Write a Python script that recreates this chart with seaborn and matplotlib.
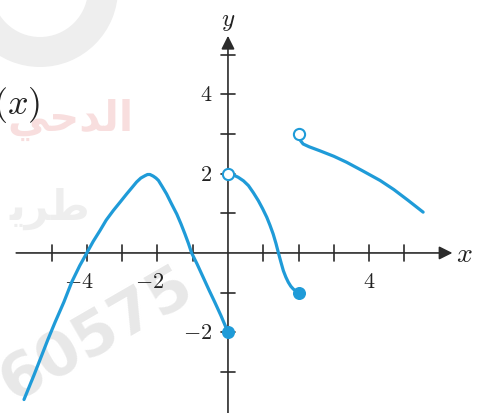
import numpy as np
import pandas as pd
import matplotlib
matplotlib.use("Agg")
import matplotlib.pyplot as plt
from matplotlib.patches import Wedge
from matplotlib.transforms import IdentityTransform
import seaborn as sns

# Piecewise function f(x), sampled points of each branch
left_x = [-5.78, -5.5, -5.28, -5.1, -4.9, -4.65, -4.43, -4.2, -4.0, -3.82, -3.63, -3.45,
          -3.25, -3.05, -2.87, -2.72, -2.59, -2.47, -2.35, -2.28, -2.21, -2.12, -2.04,
          -1.97, -1.86, -1.74, -1.6, -1.45, -1.33, -1.22, -1.12, -1.03, -0.88, -0.70,
          -0.53, -0.37, -0.2, 0.0]
left_y = [-3.70, -3.09, -2.59, -2.18, -1.75, -1.24, -0.74, -0.32, 0.0, 0.29, 0.56, 0.83,
          1.07, 1.29, 1.49, 1.65, 1.79, 1.89, 1.95, 1.98, 1.98, 1.94, 1.89,
          1.83, 1.67, 1.49, 1.24, 0.98, 0.73, 0.48, 0.24, 0.0, -0.27, -0.62,
          -0.95, -1.25, -1.58, -2.0]

mid_x = [0.0, 0.15, 0.29, 0.44, 0.58, 0.72, 0.86, 0.98, 1.10, 1.19, 1.28, 1.36, 1.43,
         1.50, 1.57, 1.64, 1.71, 1.78, 1.85, 1.92, 2.0]
mid_y = [2.0, 1.97, 1.91, 1.82, 1.70, 1.52, 1.32, 1.12, 0.90, 0.70, 0.48, 0.24, 0.0,
         -0.23, -0.45, -0.61, -0.74, -0.84, -0.91, -0.96, -1.0]

right_x = [2.0, 2.06, 2.13, 2.3, 2.6, 3.0, 3.36, 3.8, 4.31, 4.7, 5.1, 5.53]
right_y = [3.0, 2.83, 2.75, 2.68, 2.58, 2.44, 2.29, 2.08, 1.83, 1.60, 1.33, 1.03]

# Endpoints: open (excluded) and closed (included)
open_x = [0.0, 2.0]
open_y = [2.0, 3.0]
closed_x = [0.0, 2.0]
closed_y = [-2.0, -1.0]

# Axis ticks and labels
x_ticks = [-5, -4, -3, -2, -1, 1, 2, 3, 4, 5]
y_ticks = [-3, -2, -1, 1, 2, 3, 4, 5]
x_labels = {-4: r"$-4$", -2: r"$-2$", 4: r"$4$"}
y_labels = {4: r"$4$", 2: r"$2$", -2: r"$-2$"}

sns.set_theme(style="white")
plt.rcParams["mathtext.fontset"] = "cm"
plt.rcParams["font.family"] = ["DejaVu Sans"]

W, H = 481, 414
fig = plt.figure(figsize=(W / 100, H / 100), dpi=100)
ax = fig.add_axes([0, 0, 1, 1])
ax.set_xlim(-6.46, 7.17)
ax.set_ylim(-4.04, 6.41)
ax.axis("off")

blue = "#1f9bd8"
axis_col = "#2b2b2b"

# faint background watermark
ring = Wedge((40, H + 10), 78, 0, 360, width=30, transform=IdentityTransform(),
             facecolor="#eeeeee", edgecolor="none", zorder=0)
fig.patches.append(ring)
ax.text(-3.72, -2.05, "60575", fontsize=44, fontweight="bold", color="#e8e8e8",
        rotation=30, ha="center", va="center", zorder=0)
ax.text(-2.69, 3.38, "\uFEF2\uFEA3\uFEAA\uFEDF\uFE8D", fontsize=30, fontweight="bold",
        color="#f8dede", ha="right", va="center", zorder=0)
ax.text(-3.9, 1.15, "\uFEF3\uFEAE\uFEC3", fontsize=30, fontweight="bold",
        color="#eeeeee", ha="right", va="center", zorder=0)

# axes with arrow heads
ax.annotate("", xy=(6.36, 0), xytext=(-6.0, 0),
            arrowprops=dict(arrowstyle="-|>", lw=1.2, color=axis_col,
                            mutation_scale=20, shrinkA=0, shrinkB=0), zorder=2)
ax.annotate("", xy=(0, 5.48), xytext=(0, -4.1),
            arrowprops=dict(arrowstyle="-|>", lw=1.2, color=axis_col,
                            mutation_scale=20, shrinkA=0, shrinkB=0), zorder=2)

tx = 0.21
ty = 0.2
for t in x_ticks:
    ax.plot([t, t], [-ty, ty], color=axis_col, lw=1.2, zorder=2)
for t in y_ticks:
    ax.plot([-tx, tx], [t, t], color=axis_col, lw=1.2, zorder=2)

for t, lab in x_labels.items():
    if t < 0:
        ax.text(t + 0.2, -0.72, lab, fontsize=16, color="#222222", ha="right", va="center")
    else:
        ax.text(t, -0.72, lab, fontsize=16, color="#222222", ha="center", va="center")
for t, lab in y_labels.items():
    ax.text(-0.45, t, lab, fontsize=16, color="#222222", ha="right", va="center")

ax.text(0, 5.87, r"$y$", fontsize=18, color="#222222", ha="center", va="center")
ax.text(6.71, 0.0, r"$x$", fontsize=20, color="#222222", ha="center", va="center")
ax.text(-6.0, 3.76, r"$(x)$", fontsize=26, color="#222222", ha="center", va="center")

# function branches
for xs, ys in [(left_x, left_y), (mid_x, mid_y), (right_x, right_y)]:
    df = pd.DataFrame({"x": xs, "y": ys})
    sns.lineplot(data=df, x="x", y="y", ax=ax, color=blue, lw=2.3,
                 estimator=None, sort=False, zorder=3,
                 solid_joinstyle="round", solid_capstyle="round")

sns.scatterplot(x=closed_x, y=closed_y, ax=ax, color=blue, s=70,
                edgecolor=blue, linewidth=1, zorder=4)
sns.scatterplot(x=open_x, y=open_y, ax=ax, color="white", s=65,
                edgecolor=blue, linewidth=1.5, zorder=4)

fig.savefig("out.png", dpi=100)
